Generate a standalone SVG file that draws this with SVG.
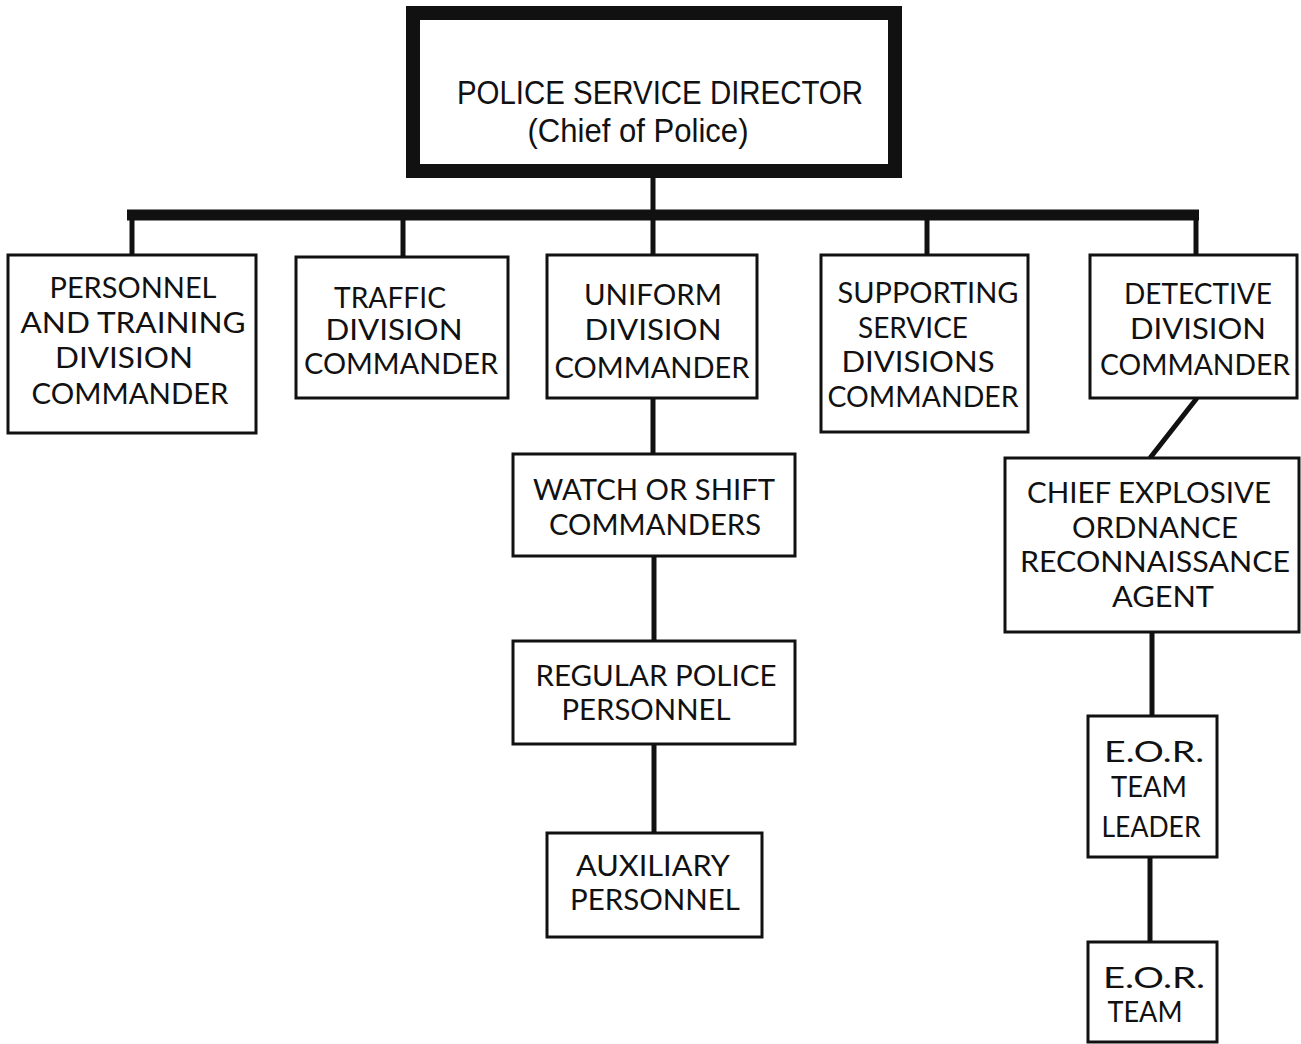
<svg xmlns="http://www.w3.org/2000/svg" width="1301" height="1044" viewBox="0 0 1301 1044">
<style>
.box{fill:#fff;stroke:#111;stroke-width:3}
.t{font-family:Lato,"Liberation Sans",sans-serif;font-size:28px;fill:#111;text-anchor:middle}
.h{font-family:"Liberation Sans",Arial,sans-serif;font-size:33px;fill:#111;text-anchor:middle}
.c{stroke:#111;stroke-width:5;fill:none}
</style>
<rect width="1301" height="1044" fill="#fff"/>
<g id="connectors">
<line class="c" x1="653" y1="175" x2="653" y2="215"/>
<line x1="127" y1="215" x2="1199" y2="215" stroke="#111" stroke-width="11"/>
<line class="c" x1="132" y1="215" x2="132" y2="256"/>
<line class="c" x1="403" y1="215" x2="403" y2="258"/>
<line class="c" x1="653" y1="215" x2="653" y2="256"/>
<line class="c" x1="927" y1="215" x2="927" y2="256"/>
<line class="c" x1="1196" y1="215" x2="1196" y2="256"/>
<line class="c" x1="653" y1="398" x2="653" y2="454"/>
<line class="c" x1="654" y1="556" x2="654" y2="641"/>
<line class="c" x1="654" y1="744" x2="654" y2="833"/>
<line class="c" x1="1197" y1="398" x2="1150" y2="458"/>
<line class="c" x1="1152" y1="632" x2="1152" y2="716"/>
<line class="c" x1="1150" y1="857" x2="1150" y2="942"/>
</g>
<g id="director">
<rect x="413" y="13" width="482" height="158" fill="#fff" stroke="#111" stroke-width="14"/>
<text class="h" x="660" y="104" textLength="406" lengthAdjust="spacingAndGlyphs">POLICE SERVICE DIRECTOR</text>
<text class="h" x="638" y="142" textLength="221" lengthAdjust="spacingAndGlyphs">(Chief of Police)</text>
</g>
<g id="personnel">
<rect class="box" x="8" y="255" width="248" height="178"/>
<text class="t" x="133" y="298" textLength="167" lengthAdjust="spacingAndGlyphs">PERSONNEL</text>
<text class="t" x="133" y="333" textLength="225" lengthAdjust="spacingAndGlyphs">AND TRAINING</text>
<text class="t" x="124" y="368" textLength="138" lengthAdjust="spacingAndGlyphs">DIVISION</text>
<text class="t" x="130" y="404" textLength="197" lengthAdjust="spacingAndGlyphs">COMMANDER</text>
</g>
<g id="traffic">
<rect class="box" x="296" y="257" width="212" height="141"/>
<text class="t" x="390" y="308" textLength="112" lengthAdjust="spacingAndGlyphs">TRAFFIC</text>
<text class="t" x="394" y="340" textLength="137" lengthAdjust="spacingAndGlyphs">DIVISION</text>
<text class="t" x="401" y="374" textLength="194" lengthAdjust="spacingAndGlyphs">COMMANDER</text>
</g>
<g id="uniform">
<rect class="box" x="547" y="255" width="210" height="143"/>
<text class="t" x="653" y="305" textLength="138" lengthAdjust="spacingAndGlyphs">UNIFORM</text>
<text class="t" x="653" y="340" textLength="137" lengthAdjust="spacingAndGlyphs">DIVISION</text>
<text class="t" x="652" y="378" textLength="195" lengthAdjust="spacingAndGlyphs">COMMANDER</text>
</g>
<g id="supporting">
<rect class="box" x="821" y="255" width="207" height="177"/>
<text class="t" x="928" y="303" textLength="181" lengthAdjust="spacingAndGlyphs">SUPPORTING</text>
<text class="t" x="913" y="338" textLength="110" lengthAdjust="spacingAndGlyphs">SERVICE</text>
<text class="t" x="918" y="372" textLength="153" lengthAdjust="spacingAndGlyphs">DIVISIONS</text>
<text class="t" x="923" y="407" textLength="191" lengthAdjust="spacingAndGlyphs">COMMANDER</text>
</g>
<g id="detective">
<rect class="box" x="1090" y="255" width="207" height="143"/>
<text class="t" x="1198" y="304" textLength="148" lengthAdjust="spacingAndGlyphs">DETECTIVE</text>
<text class="t" x="1198" y="339" textLength="136" lengthAdjust="spacingAndGlyphs">DIVISION</text>
<text class="t" x="1195" y="375" textLength="190" lengthAdjust="spacingAndGlyphs">COMMANDER</text>
</g>
<g id="watch">
<rect class="box" x="513" y="454" width="282" height="102"/>
<text class="t" x="654" y="500" textLength="242" lengthAdjust="spacingAndGlyphs">WATCH OR SHIFT</text>
<text class="t" x="655" y="535" textLength="212" lengthAdjust="spacingAndGlyphs">COMMANDERS</text>
</g>
<g id="regular">
<rect class="box" x="513" y="641" width="282" height="103"/>
<text class="t" x="656" y="686" textLength="241" lengthAdjust="spacingAndGlyphs">REGULAR POLICE</text>
<text class="t" x="646" y="720" textLength="169" lengthAdjust="spacingAndGlyphs">PERSONNEL</text>
</g>
<g id="auxiliary">
<rect class="box" x="547" y="833" width="215" height="104"/>
<text class="t" x="653" y="876" textLength="154" lengthAdjust="spacingAndGlyphs">AUXILIARY</text>
<text class="t" x="655" y="910" textLength="170" lengthAdjust="spacingAndGlyphs">PERSONNEL</text>
</g>
<g id="chief-eor">
<rect class="box" x="1005" y="458" width="294" height="174"/>
<text class="t" x="1149" y="503" textLength="244" lengthAdjust="spacingAndGlyphs">CHIEF EXPLOSIVE</text>
<text class="t" x="1155" y="538" textLength="166" lengthAdjust="spacingAndGlyphs">ORDNANCE</text>
<text class="t" x="1155" y="572" textLength="270" lengthAdjust="spacingAndGlyphs">RECONNAISSANCE</text>
<text class="t" x="1163" y="607" textLength="102" lengthAdjust="spacingAndGlyphs">AGENT</text>
</g>
<g id="eor-leader">
<rect class="box" x="1088" y="716" width="129" height="141"/>
<text class="t" x="1154" y="762" textLength="100" lengthAdjust="spacingAndGlyphs">E.O.R.</text>
<text class="t" x="1149" y="797" textLength="76" lengthAdjust="spacingAndGlyphs">TEAM</text>
<text class="t" x="1151" y="837" textLength="99" lengthAdjust="spacingAndGlyphs">LEADER</text>
</g>
<g id="eor-team">
<rect class="box" x="1088" y="942" width="129" height="100"/>
<text class="t" x="1154" y="988" textLength="102" lengthAdjust="spacingAndGlyphs">E.O.R.</text>
<text class="t" x="1145" y="1022" textLength="75" lengthAdjust="spacingAndGlyphs">TEAM</text>
</g>
</svg>
